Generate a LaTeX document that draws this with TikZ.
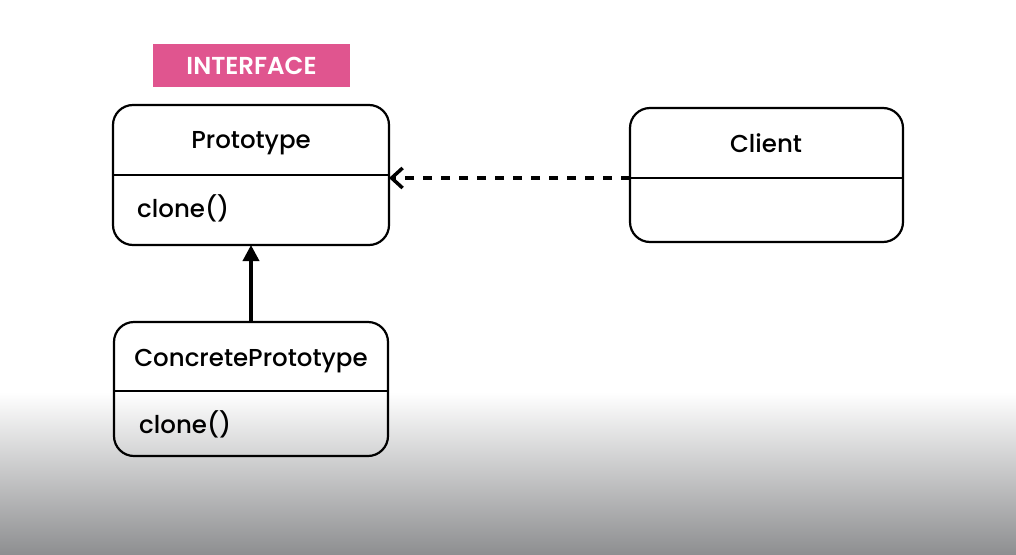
\documentclass[tikz,border=0pt]{standalone}
\usepackage{fontspec}
\setmainfont{Poppins}[BoldFont={Poppins SemiBold}]
\newfontfamily\pmed{Poppins Medium}
\usetikzlibrary{arrows.meta}
\definecolor{pinkbg}{RGB}{224,85,143}
\definecolor{botgray}{RGB}{142,143,145}
\tikzset{
  classbox/.style={draw=black, line width=2.2pt, rounded corners=20pt},
  divider/.style={draw=black, line width=2.2pt},
  cname/.style={font=\pmed\fontsize{24.5}{28}\selectfont, text=black, inner sep=0pt, anchor=base},
  cmeth/.style={font=\pmed\fontsize{24.5}{28}\selectfont, text=black, inner sep=0pt, anchor=base west},
  dep/.style={line width=3.5pt, dash pattern=on 9pt off 9pt, -{Straight Barb[length=11pt,width=20pt,line width=3.5pt]}},
  inh/.style={line width=3.5pt, -{Triangle[length=16pt,width=16pt]}},
}
\begin{document}
\begin{tikzpicture}[x=1pt,y=-1pt]
\useasboundingbox (0,0) rectangle (1016,554);
\fill[white] (0,0) rectangle (1016,554);
\shade[top color=white, bottom color=botgray] (0,392) rectangle (1016,554);
% interface tag
\node[fill=pinkbg, minimum width=197pt, minimum height=43pt, inner sep=0pt,
      text=white, font=\bfseries\fontsize{24.5}{28}\selectfont] (tag) at (251.5,65.5) {INTERFACE};
% Prototype
\draw[classbox] (113,105) rectangle (389,245);
\coordinate (protoR) at (389,178);
\coordinate (protoB) at (251,245);
\draw[divider] (113,175) -- (389,175);
\node[cname] (proto) at (251,148) {Prototype};
\node[cmeth] (protoclone) at (137,217) {clone()};
% Client
\draw[classbox] (630,108) rectangle (903,242);
\coordinate (clientL) at (630,178);
\draw[divider] (630,178) -- (903,178);
\node[cname] (client) at (766,152) {Client};
% ConcretePrototype
\draw[classbox] (114,322) rectangle (388,456);
\coordinate (concT) at (251,322);
\draw[divider] (114,391) -- (388,391);
\node[cname] (conc) at (251,366) {ConcretePrototype};
\node[cmeth] (concclone) at (139,433) {clone()};
% connectors
\draw[dep] (clientL) -- (protoR);
\draw[inh] (concT) -- (protoB);
\end{tikzpicture}
\end{document}
